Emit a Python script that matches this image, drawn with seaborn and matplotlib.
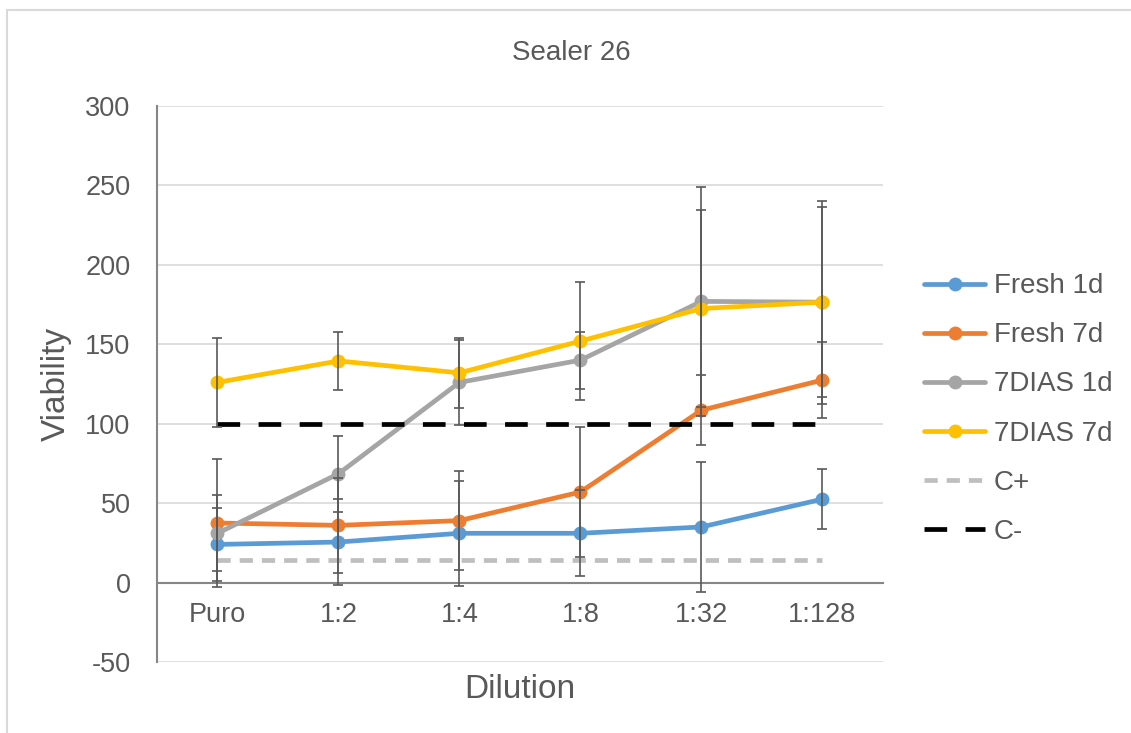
import numpy as np
import matplotlib
matplotlib.use('Agg')
import matplotlib.pyplot as plt
import seaborn as sns
from matplotlib.patches import Rectangle

dilution = ['Puro', '1:2', '1:4', '1:8', '1:32', '1:128']

fresh_1d = [24, 25.5, 31, 31, 35, 52.5]
fresh_7d = [37.5, 36, 39, 57, 108.5, 127.5]
dias_1d = [31, 68.5, 126, 140, 177, 176.5]
dias_7d = [126, 139.5, 132, 152, 172.5, 176.5]
c_pos = [14.5, 14.5, 14.5, 14.5, 14.5, 14.5]
c_neg = [100, 100, 100, 100, 100, 100]

err_fresh_1d = [23, 27, 33, 27, 41, 19]
err_fresh_7d = [40, 30, 31, 41, 22, 24]
err_dias_1d = [24, 24, 27, 18, 72, 64]
err_dias_7d = [28, 18, 22, 37, 62, 60]

txt = '#595959'

sns.set_style('white')
plt.rcParams['font.family'] = ['Liberation Sans', 'DejaVu Sans']
plt.rcParams['axes.unicode_minus'] = False

fig = plt.figure(figsize=(11.31, 7.33), dpi=100)
ax = fig.add_axes([0.1388, 0.0969, 0.6419, 0.7585])

# outer chart border like the excel frame
fig.patches.append(Rectangle((7 / 1131, -0.1), 1.2, (733 - 10) / 733 + 0.1,
                             transform=fig.transFigure, fill=False,
                             edgecolor='#d9d9d9', lw=1.5, zorder=0))

x = np.arange(len(dilution))
series = [
    ('Fresh 1d', fresh_1d, err_fresh_1d, '#5b9bd5'),
    ('Fresh 7d', fresh_7d, err_fresh_7d, '#ed7d31'),
    ('7DIAS 1d', dias_1d, err_dias_1d, '#a5a5a5'),
    ('7DIAS 7d', dias_7d, err_dias_7d, '#ffc000'),
]

for name, vals, err, col in series:
    sns.lineplot(x=x, y=vals, color=col, lw=3.4, marker='o', markersize=10,
                 markeredgewidth=0, label=name, ax=ax, zorder=3)

sns.lineplot(x=x, y=c_pos, color='#bfbfbf', lw=3.4, label='C+', ax=ax, zorder=3)
sns.lineplot(x=x, y=c_neg, color='black', lw=3.4, label='C-', ax=ax, zorder=3)
ax.lines[4].set_dashes((2.8, 1.9))
ax.lines[5].set_dashes((4.8, 3.9))

for name, vals, err, col in series:
    ax.errorbar(x, vals, yerr=err, fmt='none', ecolor='#595959', elinewidth=1.2,
                capsize=3.6, capthick=1.2, zorder=4)

ax.set_xlim(-0.5, len(dilution) - 0.5)
ax.set_ylim(-50, 300)
ax.set_yticks(np.arange(-50, 301, 50))
ax.set_xticks(x)
ax.set_xticklabels(dilution)
ax.yaxis.grid(True, color='#d9d9d9', lw=1.2)
ax.set_axisbelow(True)

for s in ['top', 'right']:
    ax.spines[s].set_visible(False)
ax.spines['left'].set_color('#868686')
ax.spines['left'].set_linewidth(1.5)
ax.spines['bottom'].set_position(('data', 0))
ax.spines['bottom'].set_color('#868686')
ax.spines['bottom'].set_linewidth(1.5)

ax.tick_params(axis='y', length=0, pad=19, labelsize=19.5, labelcolor=txt)
ax.tick_params(axis='x', length=0, pad=14, labelsize=19.5, labelcolor=txt)

ax.set_xlabel('Dilution', fontsize=24, color=txt)
ax.xaxis.set_label_coords(0.5, -0.022)
ax.set_ylabel('Viability', fontsize=24, color=txt)
ax.yaxis.set_label_coords(-0.117, 0.5)

fig.text(571 / 1131, (733 - 53) / 733, 'Sealer 26', ha='center', va='center',
         fontsize=20, color=txt)

leg = ax.legend(loc='center left', bbox_to_anchor=(0.795, 0.442),
                bbox_transform=fig.transFigure, frameon=False, fontsize=20,
                handlelength=2.2, handletextpad=0.3, labelspacing=0.83)
for t in leg.get_texts():
    t.set_color(txt)

fig.savefig('out.png', dpi=100)
